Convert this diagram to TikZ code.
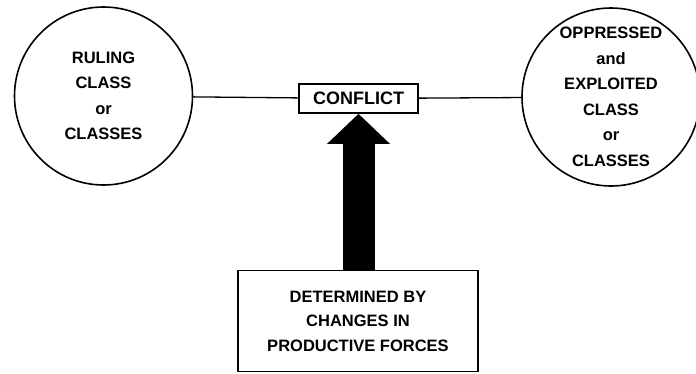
\documentclass[tikz,border=0pt]{standalone}
\usepackage{fontspec}
\setmainfont{Liberation Sans}
\usetikzlibrary{arrows.meta, positioning}

\tikzset{
  classnode/.style={circle, draw, line width=1.6pt, minimum size=178pt, inner sep=0pt,
    align=center, font=\bfseries\fontsize{16.5}{25.5}\selectfont},
  conflictbox/.style={rectangle, draw, line width=1.6pt, minimum width=119pt, minimum height=29pt,
    inner sep=0pt, font=\bfseries\fontsize{18}{20}\selectfont},
  forcebox/.style={rectangle, draw, line width=1.6pt, minimum width=240pt, minimum height=101pt,
    inner sep=0pt, align=center, font=\bfseries\fontsize{16.5}{24.5}\selectfont},
  link/.style={line width=1.3pt}
}

\begin{document}
\begin{tikzpicture}[x=1pt, y=-1pt]
\useasboundingbox (0,0) rectangle (696,373);
\node[classnode]    (ruling)    at (103.5,96) {RULING\\CLASS\\or\\CLASSES};
\node[classnode]    (oppressed) at (611,97)   {OPPRESSED\\and\\EXPLOITED\\CLASS\\or\\CLASSES};
\node[conflictbox]  (conflict)  at (358.5,98.5) {CONFLICT};
\node[forcebox]     (forces)    at (358,321)  {DETERMINED BY\\CHANGES IN\\PRODUCTIVE FORCES};
\draw[link] (ruling) -- (conflict);
\draw[link] (conflict) -- (oppressed);
\draw[line width=32pt, -{Triangle[length=30pt, width=61pt]}] (forces.north -| conflict.south) -- (conflict.south);
\end{tikzpicture}
\end{document}
